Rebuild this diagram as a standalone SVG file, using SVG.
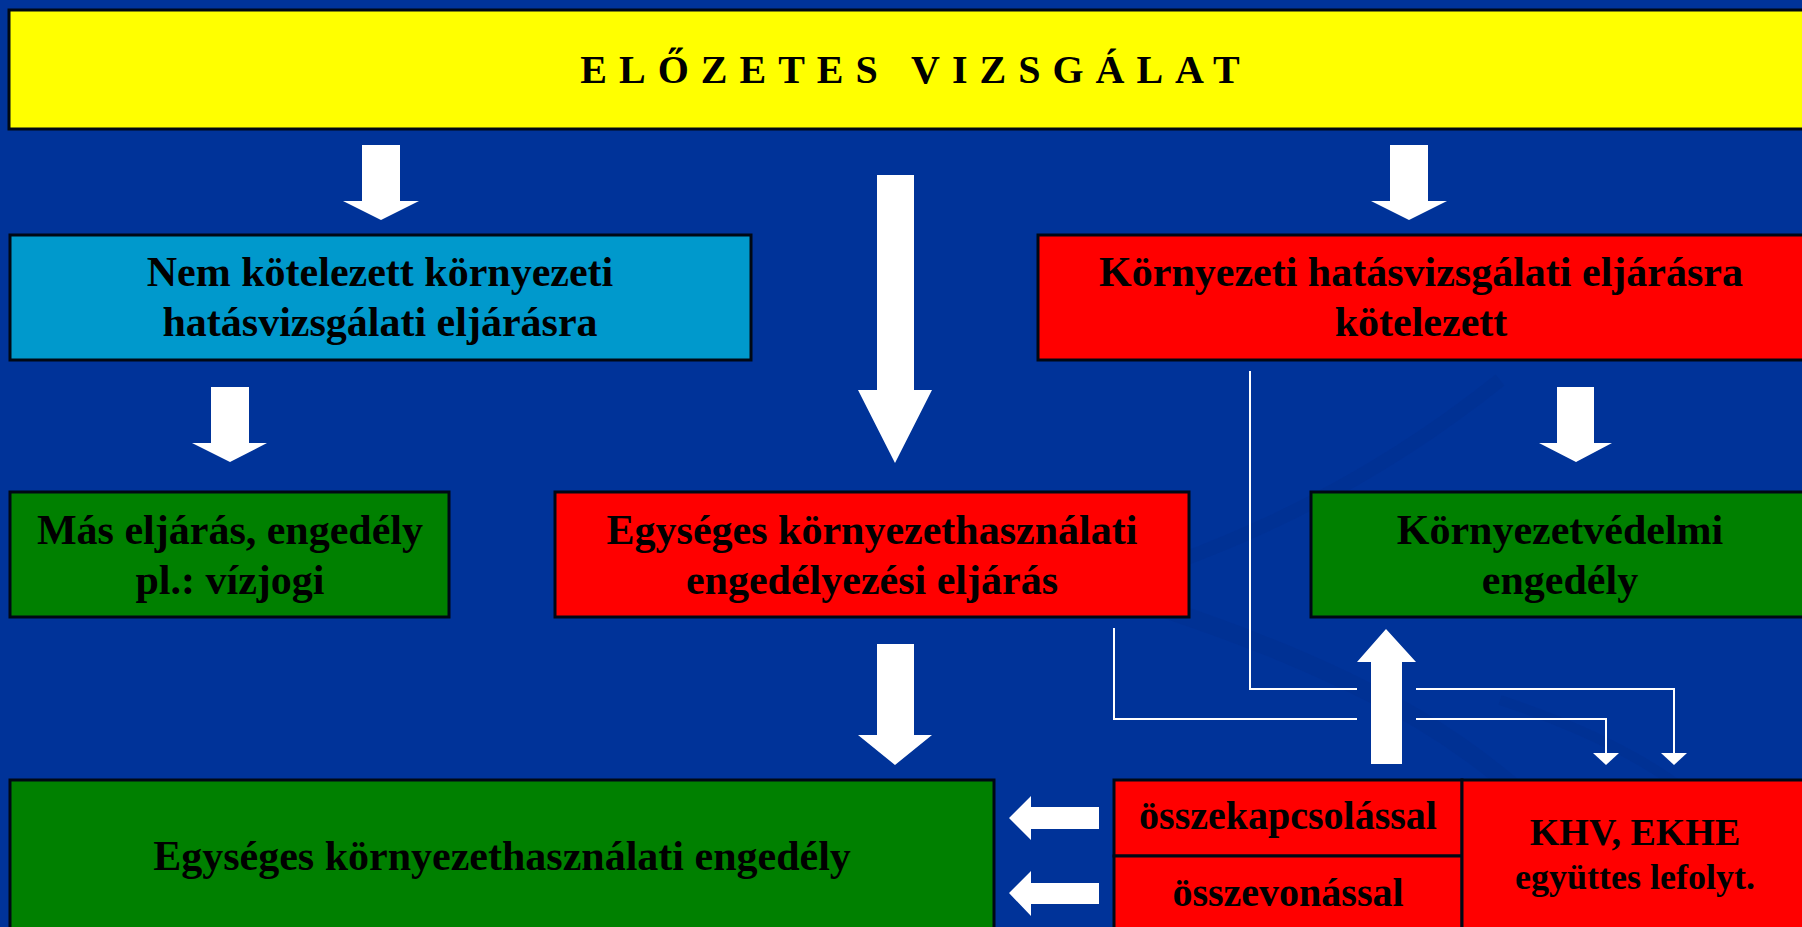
<svg xmlns="http://www.w3.org/2000/svg" width="1802" height="927" viewBox="0 0 1802 927">
<style>
.box{stroke:#000814;stroke-width:3}
.t{font-family:"Liberation Serif","Times New Roman",serif;font-weight:bold;fill:#000;text-anchor:middle}
.big{font-size:42px}
.arr{fill:#fff}
.thin{fill:none;stroke:#fff;stroke-width:2}
.sw{fill:none;stroke:#002f8c;stroke-opacity:0.35}
</style>
<rect width="1802" height="927" fill="#003399"/>
<g id="background-swirl">
<path class="sw" stroke-width="18" d="M1000,560 C1150,600 1300,650 1420,720 C1470,750 1520,790 1560,830"/>
<path class="sw" stroke-width="14" d="M1060,600 C1200,560 1350,500 1500,380"/>
<path class="sw" stroke-width="10" d="M1500,700 C1620,740 1700,790 1720,830"/>
</g>
<g id="n-elozetes">
<rect class="box" x="9" y="10" width="1800" height="119" fill="#ffff00"/>
<text class="t" x="916" y="83" font-size="40" letter-spacing="12">ELŐZETES VIZSGÁLAT</text>
</g>
<g id="n-nem-kotelezett">
<rect class="box" x="10" y="235" width="741" height="125" fill="#0099cc"/>
<text class="t big" x="380" y="286">Nem kötelezett környezeti</text>
<text class="t big" x="380" y="336">hatásvizsgálati eljárásra</text>
</g>
<g id="n-kotelezett">
<rect class="box" x="1038" y="235" width="770" height="125" fill="#ff0000"/>
<text class="t big" x="1421" y="286">Környezeti hatásvizsgálati eljárásra</text>
<text class="t big" x="1421" y="336">kötelezett</text>
</g>
<g id="n-mas-eljaras">
<rect class="box" x="10" y="492" width="439" height="125" fill="#008000"/>
<text class="t big" x="230" y="544">Más eljárás, engedély</text>
<text class="t big" x="230" y="594">pl.: vízjogi</text>
</g>
<g id="n-egyseges-eljaras">
<rect class="box" x="555" y="492" width="634" height="125" fill="#ff0000"/>
<text class="t big" x="872" y="544">Egységes környezethasználati</text>
<text class="t big" x="872" y="594">engedélyezési eljárás</text>
</g>
<g id="n-kornyezetvedelmi">
<rect class="box" x="1311" y="492" width="497" height="125" fill="#008000"/>
<text class="t big" x="1560" y="544">Környezetvédelmi</text>
<text class="t big" x="1560" y="594">engedély</text>
</g>
<g id="n-egyseges-engedely">
<rect class="box" x="10" y="780" width="984" height="160" fill="#008000"/>
<text class="t big" x="502" y="870">Egységes környezethasználati engedély</text>
</g>
<g id="n-osszekapcsolassal">
<rect class="box" x="1114" y="780" width="348" height="76" fill="#ff0000"/>
<text class="t" x="1288" y="829" font-size="40">összekapcsolással</text>
</g>
<g id="n-osszevonassal">
<rect class="box" x="1114" y="856" width="348" height="84" fill="#ff0000"/>
<text class="t" x="1288" y="906" font-size="40">összevonással</text>
</g>
<g id="n-khv-ekhe">
<rect class="box" x="1462" y="780" width="346" height="160" fill="#ff0000"/>
<text class="t" x="1635" y="845" font-size="38">KHV, EKHE</text>
<text class="t" x="1635" y="889" font-size="36">együttes lefolyt.</text>
</g>
<g id="connectors">
<polygon class="arr" points="362,145 400,145 400,201 419,201 381,220 343,201 362,201"/>
<polygon class="arr" points="1390,145 1428,145 1428,201 1447,201 1409,220 1371,201 1390,201"/>
<polygon class="arr" points="877,175 914,175 914,390 932,390 895,463 858,390 877,390"/>
<polygon class="arr" points="211,387 249,387 249,443 267,443 230,462 192,443 211,443"/>
<polygon class="arr" points="1557,387 1594,387 1594,443 1612,443 1576,462 1539,443 1557,443"/>
<polygon class="arr" points="877,644 914,644 914,735 932,735 895,765 858,735 877,735"/>
<polygon class="arr" points="1371,764 1402,764 1402,662 1416,662 1386,629 1357,662 1371,662"/>
<polygon class="arr" points="1099,807 1031,807 1031,796 1009,818 1031,840 1031,829 1099,829"/>
<polygon class="arr" points="1099,883 1031,883 1031,871 1009,893 1031,916 1031,904 1099,904"/>
<path class="thin" d="M1114,628 V719 H1357 M1416,719 H1606 V754"/>
<polygon class="arr" points="1593,753 1619,753 1606,765"/>
<path class="thin" d="M1250,371 V689 H1357 M1416,689 H1674 V754"/>
<polygon class="arr" points="1661,753 1687,753 1674,765"/>
</g>
</svg>
